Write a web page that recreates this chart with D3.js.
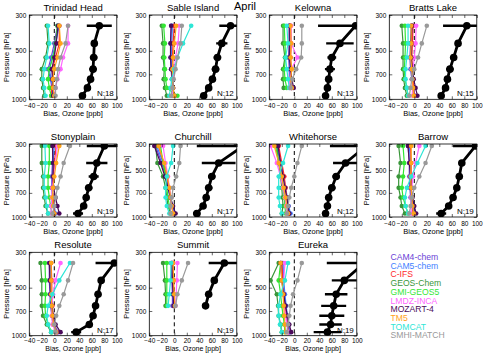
<!DOCTYPE html>
<html lang="en">
  <head>
    <meta charset="utf-8" />
    <title>April ozone bias profiles</title>
    <script src="https://d3js.org/d3.v7.min.js"></script>
    <style>
      body {
        margin: 0;
        background-color: #ffffff;
        font-family: "Liberation Sans", Arial, sans-serif;
      }
    </style>
  </head>

  <body>
    <div id="chart"></div>

    <script>
      // ---- data ----
      const levels = [350, 450, 550, 650, 750, 850, 950];
      const models = ["CAM4-chem", "CAM5-chem", "C-IFS", "GEOS-Chem", "GMI-GEOS5",
        "LMDZ-INCA", "MOZART-4", "TM5", "TOMCAT", "SMHI-MATCH"];
      const modelColors = ["#6a3fd6", "#3f7fff", "#ff2a2a", "#3a963a", "#33e633",
        "#ff66ff", "#4b0a5a", "#ffa31a", "#2ee6d6", "#999999"];
      const sites = ["Trinidad Head", "Sable Island", "Kelowna", "Bratts Lake",
        "Stonyplain", "Churchill", "Whitehorse", "Barrow",
        "Resolute", "Summit", "Eureka"];
      const siteN = [18, 12, 13, 15, 19, 17, 12, 19, 17, 19, 19];
      const xTicks = [-40, -20, 0, 20, 40, 60, 80, 100];
      const yTicks = [300, 500, 700, 1000];

      // model rows follow the order of `models`
      const trinidadHeadBias = [
        [5, 0, -5, -10, -6, -4, -2], [8, 2, -3, -8, -5, -3, -1], [8, 8, 2, -3, -2, -4, -5],
        [-12, -10, -14, -20, -20, -18, -16], [5, 2, -2, -8, -10, -8, -5], [22, 22, 14, 10, 5, 2, 0],
        [6, 3, 0, -4, -3, -2, -2], [8, 10, 5, 0, -2, -2, 0], [-10, -8, -12, -16, -18, -16, -14],
        [22, 18, 10, 6, 4, 2, 2]];
      const trinidadHeadObs = [72, 64, 63, 62, 58, 53, 45];
      const trinidadHeadErr = [20, 5, 6, 6, 5, 5, 4];

      const sableIslandBias = [
        [-5, -6, -6, -5, -4, -3, -2], [-3, -4, -5, -4, -3, -2, -1], [0, -2, -3, -2, -2, -2, -3],
        [-20, -18, -18, -16, -17, -15, -12], [-17, -15, -16, -15, -14, -12, 5], [8, 6, 2, 0, -2, -3, -3],
        [-5, -6, -6, -5, -3, -2, 0], [3, 0, -2, -3, -3, -2, 0], [27, 14, 5, 0, -4, -6, -8],
        [12, 10, 5, 2, -1, -3, -5]];
      const sableIslandObs = [90, 76, 69, 66, 61, 55, 47];
      const sableIslandErr = [18, 9, 6, 6, 5, 5, 4];

      const kelownaBias = [
        [-8, -8, -9, -8, -8, -5, null], [-7, -7, -8, -7, -6, -4, null], [-6, -5, -6, -5, -5, -4, null],
        [-18, -18, -15, -18, -18, -17, null], [-16, -15, -14, -16, -15, -12, null], [-5, -5, 5, -5, -7, -8, null],
        [-8, -8, -8, -6, -4, -1, null], [-6, -5, -6, -4, -6, -4, null], [-12, -10, -14, -12, -10, -8, null],
        [12, 12, 11, 3, -3, -6, null]];
      const kelownaObs = [98, 73, 60, 57, 55, 53, 50];
      const kelownaErr = [60, 22, 7, 8, 5, 4, 3];

      const brattsLakeBias = [
        [-5, -6, -7, -6, -4, -2, 0], [-3, -4, -5, -5, -3, -1, 1], [-2, -3, -4, -3, -2, -1, 0],
        [-20, -18, -18, -18, -17, -15, -12], [-15, -14, -15, -16, -15, -12, -10], [3, 2, 0, -2, -3, -3, -3],
        [-4, -5, -5, -3, -1, 2, 5], [-5, -5, -6, -4, -3, -2, -1], [-10, -10, -12, -14, -14, -12, -10],
        [20, 12, 6, 0, -4, -6, -8]];
      const brattsLakeObs = [84, 70, 63, 57, 53, 50, 43];
      const brattsLakeErr = [38, 5, 5, 6, 4, 4, 3];

      const stonyplainBias = [
        [-2, -3, -4, -4, -3, -2, 0], [0, -2, -3, -3, -2, 0, 2], [3, 0, -2, -3, -2, -1, 0],
        [-20, -20, -18, -18, -16, -14, -10], [-8, -8, -10, -10, -8, -6, -4], [5, 2, -1, -3, -4, -5, -5],
        [-3, -2, -2, -1, 2, 5, 8], [8, 3, 0, -2, -3, -2, 0], [-15, -14, -16, -16, -14, -12, -10],
        [25, 15, 10, 5, 2, 0, -3]];
      const stonyplainObs = [80, 68, 63, 55, 51, 47, 38];
      const stonyplainErr = [28, 17, 8, 6, 5, 5, 8];

      const churchillBias = [
        [-30, -20, -14, -10, -7, -4, -1], [-28, -18, -13, -9, -6, -3, 0], [-25, -17, -12, -8, -6, -4, -2],
        [-30, -27, -18, -14, -12, -10, -6], [-22, -18, -14, -12, -10, -8, -5], [-18, -14, -10, -8, -6, -4, -2],
        [-32, -22, -15, -10, -6, -2, 2], [-25, -16, -11, -8, -6, -4, -2], [-2, -5, -12, -14, -14, -12, -8],
        [10, 8, 3, -2, -4, -6, -6]];
      const churchillObs = [110, 71, 60, 55, 51, 46, 36];
      const churchillErr = [74, 27, 6, 6, 5, 5, 6];

      const whitehorseBias = [
        [-28, -22, -18, -15, -12, -10, -8], [-27, -21, -17, -14, -11, -9, -6], [-25, -20, -16, -14, -12, -10, -9],
        [-28, -25, -22, -20, -19, -18, -20], [-30, -25, -20, -18, -16, -15, -14], [-38, -28, -22, -18, -15, -13, -12],
        [-26, -22, -18, -15, -12, -10, -8], [-32, -25, -20, -17, -14, -12, -10], [-10, -18, -25, -25, -25, -23, -20],
        [12, 5, 0, -5, -8, -10, -12]];
      const whitehorseObs = [115, 82, 67, 60, 55, 53, 50];
      const whitehorseErr = [58, 20, 6, 6, 5, 5, 5];

      const barrowBias = [
        [-10, -8, -8, -7, -6, -4, -2], [-8, -6, -6, -5, -4, -2, 0], [-6, -5, -5, -5, -4, -3, -2],
        [-25, -22, -25, -25, -22, -20, -15], [-18, -16, -18, -20, -18, -14, -10], [8, 2, -2, -4, -5, -5, -5],
        [-10, -8, -6, -5, -3, 0, 3], [-5, -5, -6, -5, -4, -3, -1], [18, 5, -5, -12, -15, -14, -10],
        [28, 18, 8, 0, -4, -6, -8]];
      const barrowObs = [98, 76, 72, 68, 62, 55, 43];
      const barrowErr = [36, 4, 4, 4, 5, 4, 8];

      const resoluteBias = [
        [-8, -8, -7, -6, -4, -2, 5], [-6, -6, -5, -4, -2, 0, 6], [-5, -4, -4, -3, -2, 0, 4],
        [-22, -20, -20, -20, -18, -12, -5], [-15, -14, -14, -15, -14, -10, -4], [10, 2, -2, -4, -4, -3, 2],
        [-8, -7, -6, -4, -2, 2, 10], [-5, -5, -5, -4, -3, -1, 3], [25, 8, -3, -10, -12, -10, -5],
        [30, 22, 15, 8, 3, 0, 2]];
      const resoluteObs = [96, 75, 70, 66, 62, 56, 35];
      const resoluteErr = [30, 5, 5, 5, 5, 5, 8];

      const summitBias = [
        [-5, -4, -3, -3, null, null, null], [-3, -2, -2, -1, null, null, null], [-2, -2, -1, 0, null, null, null],
        [-18, -15, -14, -14, null, null, null], [-12, -12, -12, -12, null, null, null], [5, 4, 3, 2, null, null, null],
        [-4, -3, -2, -1, null, null, null], [-2, -1, 0, 1, null, null, null], [-5, -6, -8, -10, null, null, null],
        [22, 12, 5, 2, null, null, null]];
      const summitObs = [80, 64, 55, 50, null, null, null];
      const summitErr = [25, 4, 4, 4, null, null, null];

      const eurekaBias = [
        [-20, -18, -16, -14, -12, -10, -8], [-18, -17, -15, -13, -11, -9, -7], [-20, -18, -17, -15, -13, -11, -10],
        [-25, -38, -28, -26, -25, -22, -20], [-22, -25, -22, -20, -18, -16, -15], [-15, -17, -18, -16, -14, -12, -10],
        [-22, -20, -17, -14, -11, -8, -5], [-22, -20, -18, -17, -16, -15, -14], [-10, -15, -22, -25, -25, -23, -20],
        [12, 5, -2, -6, -8, -10, -12]];
      const eurekaObs = [112, 80, 67, 63, 60, 58, 53];
      const eurekaErr = [60, 20, 18, 20, 20, 18, 22];

      const siteData = [
        { bias: trinidadHeadBias, obs: trinidadHeadObs, err: trinidadHeadErr },
        { bias: sableIslandBias, obs: sableIslandObs, err: sableIslandErr },
        { bias: kelownaBias, obs: kelownaObs, err: kelownaErr },
        { bias: brattsLakeBias, obs: brattsLakeObs, err: brattsLakeErr },
        { bias: stonyplainBias, obs: stonyplainObs, err: stonyplainErr },
        { bias: churchillBias, obs: churchillObs, err: churchillErr },
        { bias: whitehorseBias, obs: whitehorseObs, err: whitehorseErr },
        { bias: barrowBias, obs: barrowObs, err: barrowErr },
        { bias: resoluteBias, obs: resoluteObs, err: resoluteErr },
        { bias: summitBias, obs: summitObs, err: summitErr },
        { bias: eurekaBias, obs: eurekaObs, err: eurekaErr },
      ];

      // ---- layout ----
      const W = 485, H = 353;
      const colLeft = [29.3, 149.3, 269.3, 389.3];
      const plotW = 87.5;
      // the middle row of the source figure is squashed at the top,
      // so its axis effectively starts near 340 hPa
      const rows = [
        { top: 15, bottom: 99.3, pTop: 300, tickPad: 4, labelY: 116.3, labelSize: 7.5 },
        { top: 144, bottom: 217, pTop: 340, tickPad: 4, labelY: 234, labelSize: 7.5 },
        // bottom row is pressed against the edge of the figure
        { top: 252.3, bottom: 335.7, pTop: 300, tickPad: 2.5, labelY: 351.3, labelSize: 7 },
      ];

      const svg = d3.select("#chart").append("svg")
        .attr("width", W).attr("height", H)
        .style("display", "block");

      svg.append("rect").attr("width", W).attr("height", H).attr("fill", "#fff");

      svg.append("text")
        .attr("x", 245).attr("y", 9.5)
        .attr("text-anchor", "middle")
        .style("font-size", "11px")
        .text("April");

      sites.forEach((site, i) => {
        const row = rows[Math.floor(i / 4)];
        const left = colLeft[i % 4];
        const d = siteData[i];

        const x = d3.scaleLinear().domain([-40, 100]).range([left, left + plotW]);
        const y = d3.scaleLog().domain([row.pTop, 1000]).range([row.top, row.bottom]);
        const h = row.bottom - row.top;

        const g = svg.append("g");

        const clipId = "clip" + i;
        g.append("clipPath").attr("id", clipId)
          .append("rect")
          .attr("x", left).attr("y", row.top)
          .attr("width", plotW).attr("height", h);

        // zero line
        g.append("line")
          .attr("x1", x(0)).attr("x2", x(0))
          .attr("y1", row.top).attr("y2", row.bottom)
          .attr("stroke", "#000").attr("stroke-width", 1)
          .attr("stroke-dasharray", "4,3");

        const data = g.append("g").attr("clip-path", `url(#${clipId})`);

        const line = d3.line()
          .defined((v) => v[0] != null)
          .x((v) => x(v[0]))
          .y((v) => y(v[1]));

        d.bias.forEach((vals, m) => {
          const pts = vals.map((v, k) => [v, levels[k]]);
          data.append("path")
            .attr("d", line(pts))
            .attr("fill", "none")
            .attr("stroke", modelColors[m])
            .attr("stroke-width", 1.2);
          data.selectAll(null)
            .data(pts.filter((p) => p[0] != null))
            .enter().append("circle")
            .attr("cx", (p) => x(p[0]))
            .attr("cy", (p) => y(p[1]))
            .attr("r", 2.3)
            .attr("fill", modelColors[m]);
        });

        // observations
        const obsPts = d.obs.map((v, k) => [v, levels[k], d.err[k]]);
        const obsDef = obsPts.filter((p) => p[0] != null);
        data.selectAll(null)
          .data(obsDef)
          .enter().append("line")
          .attr("x1", (p) => x(p[0] - p[2]))
          .attr("x2", (p) => x(p[0] + p[2]))
          .attr("y1", (p) => y(p[1]))
          .attr("y2", (p) => y(p[1]))
          .attr("stroke", "#000").attr("stroke-width", 2.4);
        data.append("path")
          .attr("d", line(obsPts))
          .attr("fill", "none")
          .attr("stroke", "#000")
          .attr("stroke-width", 2.8);
        data.selectAll(null)
          .data(obsDef)
          .enter().append("circle")
          .attr("cx", (p) => x(p[0]))
          .attr("cy", (p) => y(p[1]))
          .attr("r", 3.8)
          .attr("fill", "#000");

        // frame
        g.append("rect")
          .attr("x", left).attr("y", row.top)
          .attr("width", plotW).attr("height", h)
          .attr("fill", "none").attr("stroke", "#000").attr("stroke-width", 0.8);

        // x axis
        g.append("g")
          .attr("transform", `translate(0,${row.bottom})`)
          .call(d3.axisBottom(x).tickValues(xTicks).tickSize(-3).tickPadding(row.tickPad))
          .call((a) => a.select(".domain").remove())
          .call((a) => a.selectAll("text").style("font-size", "6.5px").attr("font-family", null))
          .call((a) => a.selectAll("line").attr("stroke-width", 0.6));
        g.append("g")
          .attr("transform", `translate(0,${row.top})`)
          .call(d3.axisTop(x).tickValues(xTicks).tickSize(-3).tickFormat(""))
          .call((a) => a.select(".domain").remove())
          .call((a) => a.selectAll("line").attr("stroke-width", 0.6));

        // y axis (top tick always labelled 300)
        const yVals = [row.pTop, 500, 700, 1000];
        g.append("g")
          .attr("transform", `translate(${left},0)`)
          .call(d3.axisLeft(y).tickValues(yVals).tickSize(-3).tickPadding(3)
            .tickFormat((v, k) => yTicks[k]))
          .call((a) => a.select(".domain").remove())
          .call((a) => a.selectAll("text").style("font-size", "6.5px").attr("font-family", null))
          .call((a) => a.selectAll("line").attr("stroke-width", 0.6));
        g.append("g")
          .attr("transform", `translate(${left + plotW},0)`)
          .call(d3.axisRight(y).tickValues(yVals).tickSize(-3).tickFormat(""))
          .call((a) => a.select(".domain").remove())
          .call((a) => a.selectAll("line").attr("stroke-width", 0.6));

        // labels
        g.append("text")
          .attr("x", left + plotW / 2).attr("y", row.top - 4)
          .attr("text-anchor", "middle")
          .style("font-size", "9.5px")
          .text(site);
        g.append("text")
          .attr("x", left + plotW / 2).attr("y", row.labelY)
          .attr("text-anchor", "middle")
          .style("font-size", row.labelSize + "px")
          .text("Bias, Ozone [ppb]");
        g.append("text")
          .attr("transform", `translate(${left - 20},${(row.top + row.bottom) / 2}) rotate(-90)`)
          .attr("text-anchor", "middle")
          .style("font-size", "7.5px")
          .text("Pressure [hPa]");
        g.append("text")
          .attr("x", left + plotW - 3).attr("y", row.bottom - 3)
          .attr("text-anchor", "end")
          .style("font-size", "8px")
          .text("N:" + siteN[i]);
      });

      // legend in the empty 12th slot
      svg.append("g").selectAll("text")
        .data(models)
        .enter().append("text")
        .attr("x", 390.5)
        .attr("y", (m, k) => 260 + k * 8.7)
        .style("font-size", "8.6px")
        .attr("fill", (m, k) => modelColors[k])
        .text((m) => m);
    </script>
  </body>
</html>
